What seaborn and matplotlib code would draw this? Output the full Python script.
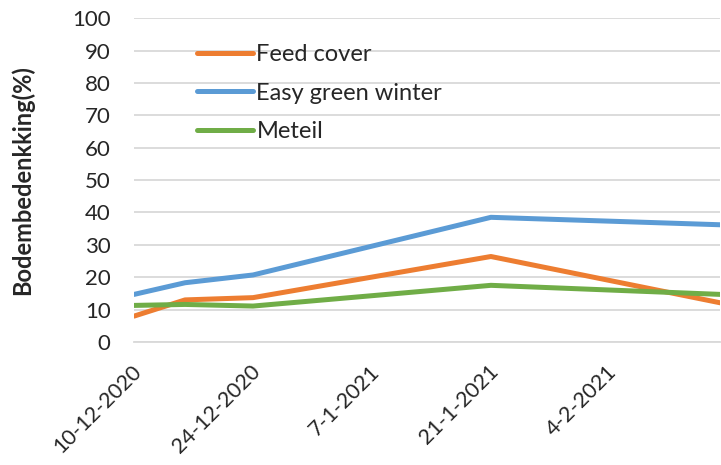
import pandas as pd
import seaborn as sns
import matplotlib.pyplot as plt
import matplotlib.ticker as mticker
import matplotlib.dates as mdates
import matplotlib.transforms as mtransforms

dates = ['2020-12-10', '2020-12-16', '2020-12-24', '2021-01-21', '2021-02-17']
feed_cover = [8.0, 13.0, 13.7, 26.4, 12.1]
easy_green_winter = [14.7, 18.3, 20.7, 38.5, 36.2]
meteil = [11.3, 11.6, 11.1, 17.5, 14.7]

series_names = ['Feed cover', 'Easy green winter', 'Meteil']
colors = ['#ED7D31', '#5B9BD5', '#70AD47']

df = pd.DataFrame({
    'date': pd.to_datetime(dates * 3),
    'value': feed_cover + easy_green_winter + meteil,
    'serie': [n for n in series_names for _ in dates],
})

sns.set_style('white')
plt.rcParams['font.family'] = ['Lato', 'DejaVu Sans']

fig = plt.figure(figsize=(7.21, 4.65), dpi=100)
ax = fig.add_axes([0.186, 0.2645, 0.813, 0.6965])

sns.lineplot(data=df, x='date', y='value', hue='serie', hue_order=series_names,
             palette=colors, linewidth=3.6, ax=ax, zorder=3)

start = pd.Timestamp('2020-12-10')
end = pd.Timestamp('2021-02-17')
ax.set_xlim(start, end)
ax.set_ylim(0, 100)

major = mdates.date2num(pd.date_range(start, end, freq='14D'))
minor = mdates.date2num(pd.date_range(start, end + pd.Timedelta(days=1), freq='7D'))
ax.xaxis.set_major_locator(mticker.FixedLocator(major))
ax.xaxis.set_minor_locator(mticker.FixedLocator(minor))
ax.xaxis.set_major_formatter(mdates.DateFormatter('%-d-%-m-%Y'))
ax.yaxis.set_major_locator(mticker.MultipleLocator(10))

ax.grid(axis='y', color='#D9D9D9', linewidth=1.3, zorder=0)
for s in ['top', 'right', 'left']:
    ax.spines[s].set_visible(False)
ax.spines['bottom'].set_color('#D9D9D9')
ax.spines['bottom'].set_linewidth(1.3)

ax.tick_params(axis='y', length=0, pad=17, labelsize=16)
ax.tick_params(axis='x', which='both', direction='in', length=7, width=1.3,
               color='#D9D9D9', labelsize=15.5, pad=14)
shift = mtransforms.ScaledTranslation(-3 / 100, 0, fig.dpi_scale_trans)
for lbl in ax.get_xticklabels():
    lbl.set_rotation(45)
    lbl.set_ha('right')
    lbl.set_rotation_mode('anchor')
    lbl.set_transform(lbl.get_transform() + shift)

ax.set_xlabel('')
ax.set_ylabel('Bodembedenkking(%)', fontsize=17, fontweight='bold')
ax.yaxis.set_label_coords(-0.17, 0.5)

ax.legend(loc='upper left', bbox_to_anchor=(0.108, 0.92), frameon=False,
          fontsize=17, handlelength=2.35, handletextpad=0.15, labelspacing=0.74,
          borderpad=0, borderaxespad=0)

fig.savefig('out.png', dpi=100)
